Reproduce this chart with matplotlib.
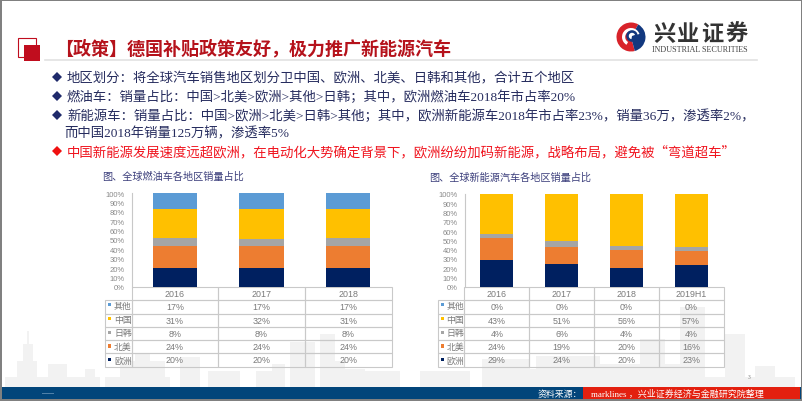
# -*- coding: utf-8 -*-
import matplotlib
matplotlib.use('Agg')
import matplotlib.pyplot as plt
from matplotlib.patches import Rectangle, Circle, Wedge, Polygon

plt.rcParams['font.family'] = ['Liberation Serif', 'Noto Sans CJK SC']

W, H = 802, 402

# chart data
regions = ['欧洲', '北美', '日韩', '中国', '其他']
colors = ['#002060', '#ED7D31', '#A5A5A5', '#FFC000', '#5B9BD5']
years1 = ['2016', '2017', '2018']
oil_eu = [20, 20, 20]
oil_na = [24, 24, 24]
oil_jk = [8, 8, 8]
oil_cn = [31, 32, 31]
oil_ot = [17, 17, 17]
years2 = ['2016', '2017', '2018', '2019H1']
nev_eu = [29, 24, 20, 23]
nev_na = [24, 19, 20, 16]
nev_jk = [4, 6, 4, 4]
nev_cn = [43, 51, 56, 57]
nev_ot = [0, 0, 0, 0]
yticks = list(range(0, 101, 10))

title = '【政策】德国补贴政策友好，极力推广新能源汽车'
lines = [
    (67, 78.5, '地区划分：将全球汽车销售地区划分卫中国、欧洲、北美、日韩和其他，合计五个地区'),
    (67, 97.5, '燃油车：销量占比：中国>北美>欧洲>其他>日韩；其中，欧洲燃油车2018年市占率20%'),
    (67, 116.5, '新能源车：销量占比：中国>欧洲>北美>日韩>其他；其中，欧洲新能源车2018年市占率23%，销量36万，渗透率2%，'),
    (64, 133.5, '而中国2018年销量125万辆，渗透率5%'),
]
red_line = '中国新能源发展速度远超欧洲，在电动化大势确定背景下，欧洲纷纷加码新能源，战略布局，避免被“弯道超车”'

# background skyline (x0, x1, top)
skyline = [(5, 100, 378), (17, 37, 362), (23, 33, 345), (27, 29, 332), (48, 67, 365), (85, 95, 370),
           (105, 170, 378), (120, 165, 362), (135, 150, 355), (180, 200, 358), (208, 240, 372),
           (256, 285, 372), (272, 285, 365), (290, 315, 343), (320, 335, 335), (320, 345, 362),
           (340, 365, 370), (365, 400, 372), (420, 470, 372), (482, 530, 360), (530, 600, 370),
           (536, 600, 357), (640, 665, 340), (600, 700, 365), (680, 705, 308), (725, 745, 335),
           (700, 795, 378), (755, 775, 367)]

fig = plt.figure(figsize=(W / 100, H / 100), dpi=100)
bg = fig.add_axes([0, 0, 1, 1])
bg.set_xlim(0, W)
bg.set_ylim(H, 0)
bg.axis('off')

def rect(x0, y0, x1, y1, **kw):
    bg.add_patch(Rectangle((x0, y0), x1 - x0, y1 - y0, **kw))

for x0, x1, top in skyline:
    rect(x0, top, x1, 388, fc='#f2f2f2', ec='none', zorder=0)

# header
rect(18, 39, 36, 58, fc='none', ec='#c00d1e', lw=0.8)
rect(24, 46, 40, 62, fc='#c00d1e', ec='none')
bg.plot([45, 757], [61, 61], color='#e2e2e2', lw=1.2)
bg.text(55, 48.5, title, color='#b5121b', fontsize=13, fontweight='bold', va='center',
        family=['Noto Sans CJK SC'])

# logo
cx, cy = 631, 38
bg.add_patch(Wedge((cx, cy), 14.5, 75, 300, fc='#d8232a', ec='none'))
bg.add_patch(Wedge((cx, cy), 14.5, -60, 75, fc='#12387f', ec='none'))
bg.add_patch(Wedge((cx, cy), 9, 120, 340, width=3.2, fc='white', ec='none'))
bg.add_patch(Circle((cx + 1, cy - 1), 5.8, fc='#12387f', ec='none'))
bg.add_patch(Wedge((cx + 1, cy - 1), 3.2, 100, 340, fc='white', ec='none'))
for i, ch in enumerate('兴业证券'):
    bg.text(664 + i * 24.3, 34.5, ch, fontsize=16, color='#333333', ha='center', va='center',
            fontweight='bold', family=['Noto Sans CJK SC'])
bg.text(700, 49.5, 'INDUSTRIAL SECURITIES', fontsize=5.9, color='#444444', ha='center', va='center')

# bullet text
def diamond(x, y, c):
    bg.add_patch(Polygon([(x - 5, y), (x, y - 5), (x + 5, y), (x, y + 5)], fc=c, ec='none'))

for y in (78, 97, 116):
    diamond(57, y, '#1f2a6b')
for x, y, s in lines:
    bg.text(x, y, s, fontsize=9.63, color='#262c5e', va='center')
diamond(57, 152, '#f01010')
bg.text(67, 152.5, red_line, fontsize=9.63, color='#f0141e', va='center', family=['Noto Sans CJK SC'])

# footer
rect(0, 388, W, 400, fc='#02457a', ec='none')
rect(583, 388, 800, 400, fc='#e3200f', ec='none')
rect(42, 394, 54, 394.7, fc='#4f80a8', ec='none')
bg.text(582, 394, '资料来源：', fontsize=6.4, color='white', ha='right', va='center',
        family=['Noto Sans CJK SC'])
bg.text(591, 394, 'marklines ，兴业证券经济与金融研究院整理', fontsize=6.5, color='white', va='center')
bg.text(749, 378, '3', fontsize=4, color='#777777', ha='center', va='center')

# frame
rect(0, 0, W, 1.5, fc='#808080', ec='none')
rect(0, 0, 1.5, H, fc='#808080', ec='none')
rect(W - 1.5, 0, W, H, fc='#808080', ec='none')
rect(0, 400, W, H, fc='#808080', ec='none')


def stacked(left, right, top, bottom, table_left, names, series, width, heading, hx, hy):
    ax = fig.add_axes([left / W, 1 - bottom / H, (right - left) / W, (bottom - top) / H])
    ax.patch.set_alpha(0)
    pos = list(range(len(names)))
    totals = [sum(s[i] for s in series) for i in pos]
    base = [0] * len(names)
    for s, c in zip(series, colors):
        share = [100 * v / t for v, t in zip(s, totals)]
        ax.bar(pos, share, width=width, bottom=base, color=c)
        base = [b + v for b, v in zip(base, share)]
    ax.set_xlim(-0.5, len(names) - 0.5)
    ax.set_ylim(0, 100)
    ax.set_xticks([])
    ax.set_yticks(yticks)
    ax.set_yticklabels([str(v) + '%' for v in yticks], fontsize=5.5, color='#8a8a8a',
                       family=['Liberation Sans'])
    ax.tick_params(axis='y', length=0, pad=5)
    for sp in ('top', 'right', 'bottom'):
        ax.spines[sp].set_visible(False)
    ax.spines['left'].set_color('#c8c8c8')
    ax.spines['left'].set_linewidth(0.8)

    # data table under the chart
    row_top, row_bot = 288, 367.5
    rows = [[''] + names]
    for name, s in zip(regions[::-1], series[::-1]):
        rows.append([''] + [str(v) + '%' for v in s])
    label_w = left - table_left
    cell_w = (right - left) / len(names)
    tb = bg.table(cellText=rows, cellLoc='center',
                  colWidths=[label_w] + [cell_w] * len(names),
                  bbox=[table_left / W, 1 - row_bot / H, (right - table_left) / W, (row_bot - row_top) / H])
    tb.auto_set_font_size(False)
    for (r, c), cell in tb.get_celld().items():
        cell.set_facecolor('none')
        cell.set_edgecolor('#c9c9c9')
        cell.set_linewidth(0.8)
        cell.get_text().set_fontsize(6.4)
        cell.get_text().set_color('#7a7a7a')
        cell.get_text().set_family(['Liberation Sans'])
    tb[(0, 0)].visible_edges = ''
    rh = (row_bot - 299) / 5
    for i, (name, c) in enumerate(zip(regions[::-1], colors[::-1])):
        yc = 299 + rh * (i + 0.5)
        rect(table_left + 3, yc - 1.6, table_left + 6.2, yc + 1.6, fc=c, ec='none')
        bg.text(table_left + 9, yc + 0.5, name, fontsize=6.4, color='#7a7a7a', va='center',
                family=['Noto Sans CJK SC'])
    bg.text(hx, hy, heading, fontsize=7.3, color='#3c3f7c', va='center', family=['Noto Sans CJK SC'])


stacked(131.5, 391.5, 194.3, 287.7, 105, years1,
        [oil_eu, oil_na, oil_jk, oil_cn, oil_ot], 0.51, '图、全球燃油车各地区销量占比', 102.5, 177)
stacked(464.5, 723.5, 195, 287.7, 437.5, years2,
        [nev_eu, nev_na, nev_jk, nev_cn, nev_ot], 0.51, '图、全球新能源汽车各地区销量占比', 429, 178)

fig.savefig('out.png', dpi=100)
